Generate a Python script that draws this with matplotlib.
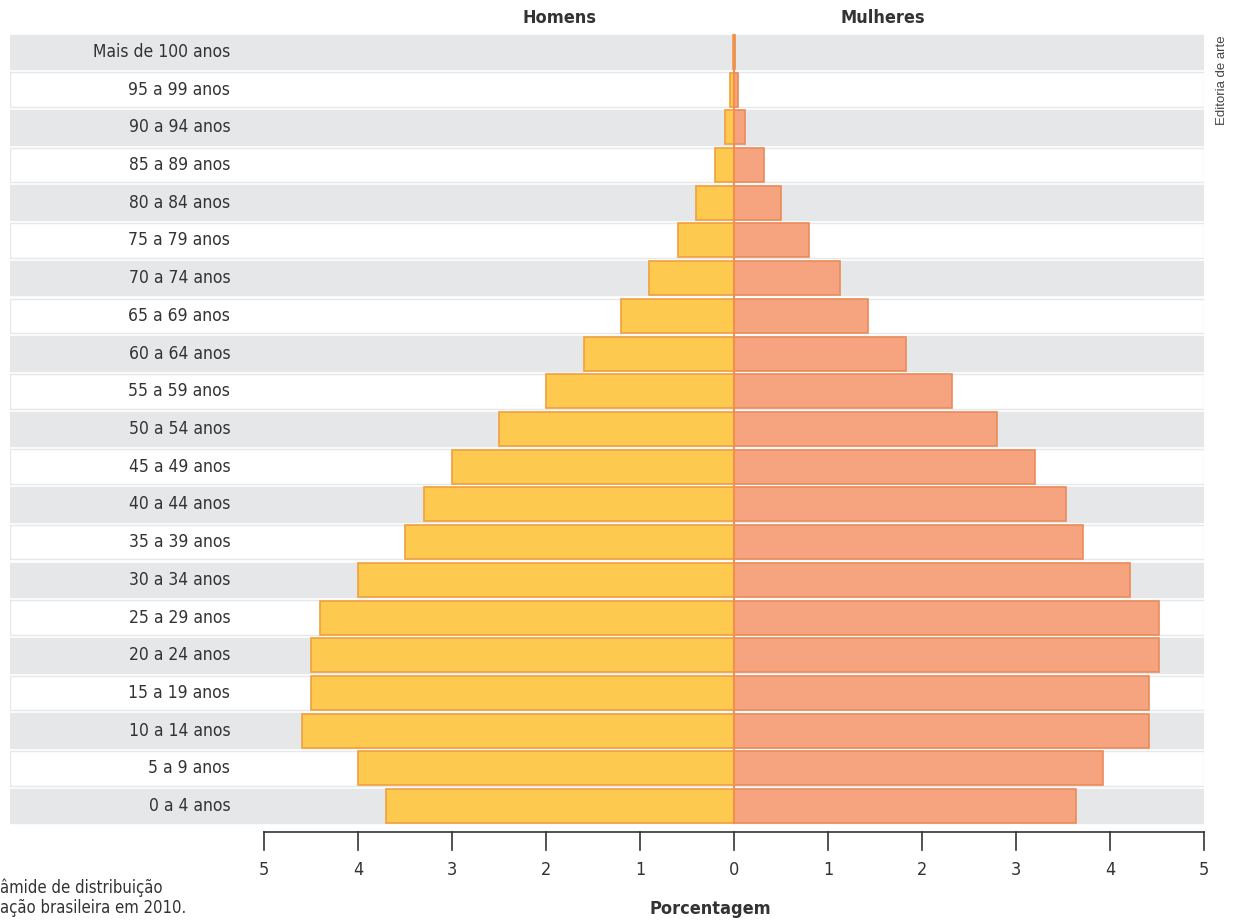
import matplotlib.pyplot as plt
import numpy as np

# faixas etarias, de baixo para cima
faixas = ['0 a 4 anos', '5 a 9 anos', '10 a 14 anos', '15 a 19 anos', '20 a 24 anos',
          '25 a 29 anos', '30 a 34 anos', '35 a 39 anos', '40 a 44 anos', '45 a 49 anos',
          '50 a 54 anos', '55 a 59 anos', '60 a 64 anos', '65 a 69 anos', '70 a 74 anos',
          '75 a 79 anos', '80 a 84 anos', '85 a 89 anos', '90 a 94 anos', '95 a 99 anos',
          'Mais de 100 anos']
homens = [3.7, 4.0, 4.6, 4.5, 4.5, 4.4, 4.0, 3.5, 3.3, 3.0,
          2.5, 2.0, 1.6, 1.2, 0.9, 0.6, 0.4, 0.2, 0.1, 0.04, 0.01]
mulheres = [3.64, 3.93, 4.41, 4.41, 4.52, 4.52, 4.21, 3.71, 3.53, 3.2,
            2.8, 2.32, 1.83, 1.43, 1.13, 0.8, 0.5, 0.32, 0.12, 0.04, 0.01]
ticks = [-5, -4, -3, -2, -1, 0, 1, 2, 3, 4, 5]

plt.rcParams['font.family'] = ['DejaVu Sans']
plt.rcParams['font.stretch'] = 'condensed'

W, H = 1237, 921
fig = plt.figure(figsize=(W / 100, H / 100), dpi=100)
ax = fig.add_axes([10 / W, 1 - 825 / H, 1194 / W, 792 / H])
xmin = -5 - 254 / 94
ax.set_xlim(xmin, 5)
ax.set_ylim(-0.5, 20.5)
ax.axis('off')

y = np.arange(len(faixas))
n = len(faixas)
for i in y:
    cinza = (n - 1 - i) % 2 == 0
    ax.barh(i, 5 - xmin, left=xmin, height=0.92,
            color='#e6e7e8' if cinza else 'white',
            edgecolor='#e6e7e8', lw=1, zorder=1)
    ax.text(-5.36, i, faixas[i], ha='right', va='center', fontsize=12.5, color='#333333', zorder=3)

ax.barh(y, -np.array(homens), height=0.9, color='#fdc94f', edgecolor='#f0a040', lw=1.2, zorder=2)
ax.barh(y, mulheres, height=0.9, color='#f6a47f', edgecolor='#eb8b5a', lw=1.2, zorder=2)
ax.plot([0, 0], [-0.45, 20.45], color='#f0904a', lw=1.5, zorder=3)

# eixo de baixo
ya = -0.5 - 7 / 37.7
ax.plot([-5, 5], [ya, ya], color='#333333', lw=1.2, clip_on=False)
for t in ticks:
    ax.plot([t, t], [ya, ya - 18 / 37.7], color='#333333', lw=1.2, clip_on=False)
    ax.text(t, ya - 38 / 37.7, str(abs(t)), ha='center', va='center', fontsize=13, color='#333333')

fig.text(559 / W, 1 - 18 / H, 'Homens', ha='center', va='center', fontsize=13, fontweight='bold', color='#333333')
fig.text(883 / W, 1 - 18 / H, 'Mulheres', ha='center', va='center', fontsize=13, fontweight='bold', color='#333333')
fig.text(710 / W, 1 - 909 / H, 'Porcentagem', ha='center', va='center', fontsize=13, fontweight='bold', color='#333333')
fig.text(1222 / W, 1 - 80 / H, 'Editoria de arte', ha='center', va='center', rotation=90,
         fontsize=9.5, color='#444444', family=['Liberation Sans', 'DejaVu Sans'], stretch='normal')
fig.text(0, 1 - 898 / H, 'âmide de distribuição\nação brasileira em 2010.', ha='left', va='center',
         fontsize=12, color='#333333', linespacing=1.15)

fig.savefig('out.png', dpi=100)
